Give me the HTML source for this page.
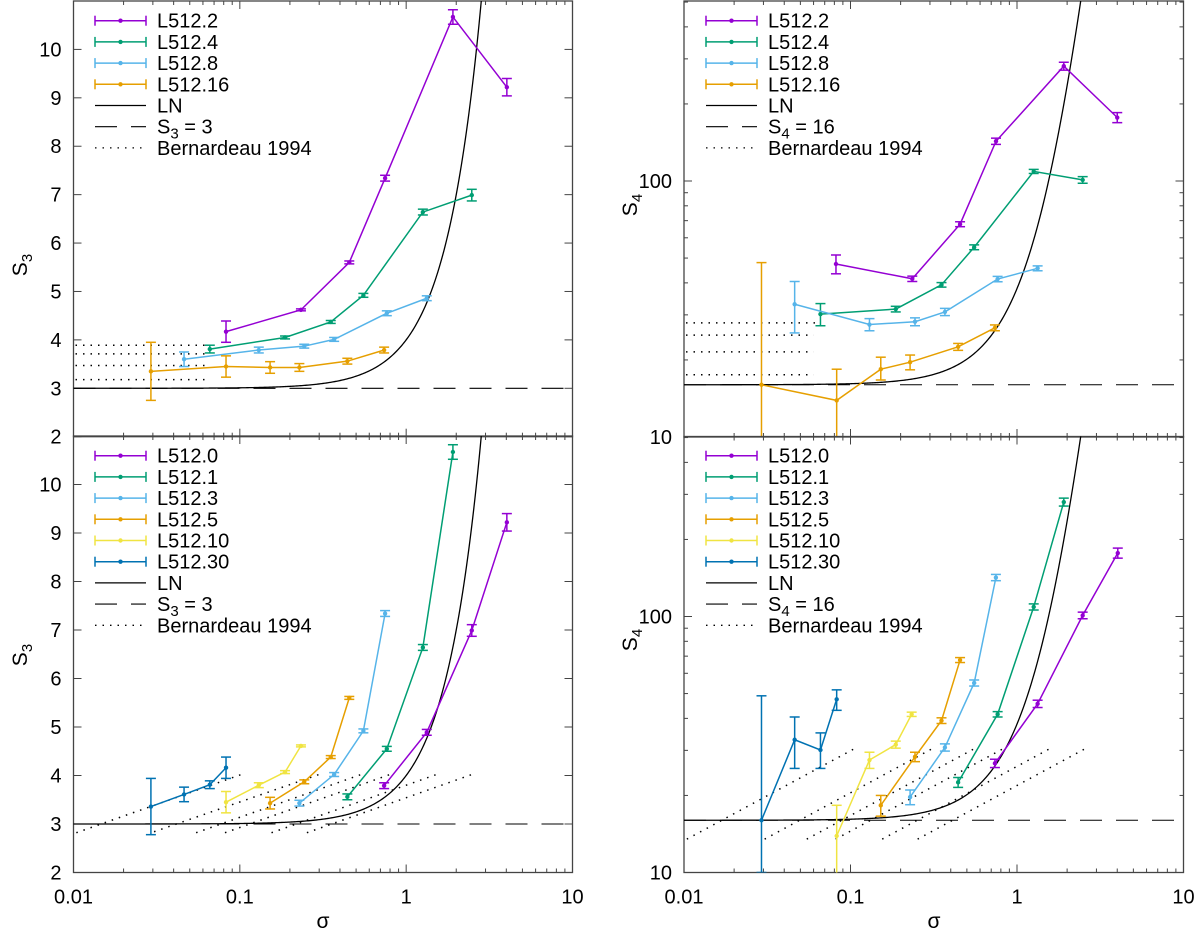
<!DOCTYPE html>
<html><head><meta charset="utf-8"><style>
body{margin:0;background:#fff}
svg{display:block;font-family:"Liberation Sans",sans-serif}
</style></head><body>
<svg id="c" width="1200" height="935" viewBox="0 0 1200 935" xmlns="http://www.w3.org/2000/svg"></svg>
<script>
// ---------- data ----------
const colPurple="#9400D3",colGreen="#009E73",colLblue="#56B4E9",colOrange="#E69F00",colYellow="#F0E442",colBlue="#0072B2";
// top-left S3
const tlNames=["L512.2","L512.4","L512.8","L512.16"];
const tlColors=[colPurple,colGreen,colLblue,colOrange];
const tlSigma=[[0.0826,0.233,0.455,0.747,1.91,4.03],[0.066,0.187,0.352,0.553,1.26,2.48],[0.0462,0.130,0.244,0.369,0.765,1.33],[0.0292,0.0826,0.152,0.228,0.443,0.737]];
const tlS3=[[4.17,4.62,5.60,7.34,10.67,9.22],[3.81,4.05,4.37,4.92,6.64,6.99],[3.60,3.79,3.87,4.01,4.55,4.86],[3.35,3.45,3.43,3.43,3.56,3.79]];
const tlErr=[[0.22,0.02,0.03,0.06,0.15,0.18],[0.08,0.03,0.03,0.04,0.06,0.12],[0.15,0.06,0.04,0.04,0.05,0.05],[0.6,0.22,0.12,0.08,0.06,0.06]];
const tlBernVal=[3.89,3.71,3.47,3.18];
const tlBernEnd=[0.066,0.066,0.062,0.062];
// bottom-left S3
const blNames=["L512.0","L512.1","L512.3","L512.5","L512.10","L512.30"];
const blColors=[colPurple,colGreen,colLblue,colOrange,colYellow,colBlue];
const blSigma=[[0.737,1.33,2.48,4.03],[0.443,0.765,1.26,1.91],[0.228,0.369,0.553,0.747],[0.152,0.244,0.352,0.455],[0.0826,0.130,0.187,0.233],[0.0292,0.0462,0.066,0.0826]];
const blS3=[[3.79,4.89,6.99,9.22],[3.56,4.55,6.64,10.67],[3.43,4.02,4.92,7.34],[3.43,3.87,4.38,5.60],[3.45,3.80,4.07,4.61],[3.36,3.61,3.81,4.16]];
const blErr=[[0.06,0.06,0.12,0.18],[0.06,0.05,0.06,0.15],[0.06,0.04,0.04,0.06],[0.12,0.04,0.03,0.03],[0.22,0.05,0.03,0.02],[0.58,0.15,0.08,0.22]];
const bernStart=[0.0104,0.0305,0.0546,0.0814,0.155,0.253];
const bernS3Start=[2.82,2.84,2.82,2.82,2.82,2.82];
const bernS3End=[4.03,4.03,4.03,4.03,4.03,4.03];
// top-right S4
const trSigma=[[0.0818,0.235,0.455,0.748,1.91,4.0],[0.066,0.187,0.352,0.553,1.26,2.48],[0.0462,0.130,0.244,0.369,0.765,1.33],[0.0292,0.0826,0.152,0.228,0.443,0.737]];
const trS4=[[47.4,41.5,67.8,143,281,177],[30.2,31.6,39.3,55.1,109,101],[33,27.5,28.2,30.8,41.4,45.6],[16,13.9,18.4,19.6,22.5,26.7]];
const trErrLo=[[4,1,1.5,4,10,8],[3,0.8,0.8,1.2,2,3],[7.5,1.5,1,1,1,1],[10,7,1.7,1.3,0.7,0.7]];
const trErrHi=[[4,1,1.5,4,10,8],[3,0.8,0.8,1.2,2,3],[7.5,1.5,1,1,1,1],[32,4.5,2.1,1.3,0.7,0.7]];
const trBernVal=[27.9,25.0,21.5,17.5];
const trBernEnd=[0.066,0.06,0.06,0.06];
// bottom-right S4
const brSigma=blSigma;
const brS4=[[26.7,45.6,101,177],[22.5,41.5,109,280],[19.7,30.8,55,142],[18.3,28.3,39.2,67.6],[13.9,27.5,31.6,41.5],[16,33,30.1,47.5]];
const brErrLo=[[1,1.5,3,8],[1,1,3,10],[1.3,1,1.5,4],[1.7,1.2,1,1.5],[4,2,1,0.8],[6,7.5,4.6,4.5]];
const brErrHi=[[1,1.5,3,8],[1,1,3,10],[1.3,1,1.5,4],[1.7,1.2,1,1.5],[4.4,2,1,0.8],[33,7.5,5,4.2]];
const bernS4Start=[13.5,13.5,13.5,13.5,13.5,13.5];
const bernS4End=[30.3,30.3,30.3,30.3,30.3,30.3];
const xTicks=[0.01,0.1,1,10];
const xTickLabels=["0.01","0.1","1","10"];
const s3Ticks=[2,3,4,5,6,7,8,9,10];
const s4Ticks=[10,100];

// ---------- drawing ----------
const NS="http://www.w3.org/2000/svg";
const svg=document.getElementById("c");
function mk(tag,attrs,parent){const e=document.createElementNS(NS,tag);for(const k in attrs)e.setAttribute(k,attrs[k]);(parent||svg).appendChild(e);return e;}

function makePanel(x0,x1,y0,y1,ymin,ymax,logy){
  const xs=s=>x0+(Math.log10(s)+2)/3*(x1-x0);
  const ys=logy?(v=>y1-(Math.log10(v)-Math.log10(ymin))/(Math.log10(ymax)-Math.log10(ymin))*(y1-y0)):(v=>y1-(v-ymin)/(ymax-ymin)*(y1-y0));
  return {x0,x1,y0,y1,xs,ys,logy,ymin,ymax};
}
const TL=makePanel(73.5,572.5,1,436.7,2,11,false);
const BL=makePanel(73.5,572.5,436,872.5,2,11,false);
const TR=makePanel(684,1183.5,1,437,10,Math.pow(10,1+436/256),true);
const BR=makePanel(684,1183.5,436.5,872.5,10,Math.pow(10,1+436/256),true);

function frame(P,name,yTicks,showX,ylab,ylabSub,ylx,yly){
  const g=mk("g",{});
  
  
  mk("rect",{x:P.x0,y:P.y0,width:P.x1-P.x0,height:P.y1-P.y0,fill:"none",stroke:"#444","stroke-width":1.3},g);
  for(let d=-2;d<1;d++){for(let m=1;m<10;m++){const s=m*Math.pow(10,d);const x=P.xs(s);const L=m===1?8:4;
    mk("line",{x1:x,x2:x,y1:P.y1,y2:P.y1-L,stroke:"#444"},g);mk("line",{x1:x,x2:x,y1:P.y0,y2:P.y0+L,stroke:"#444"},g);}}
  if(showX){xTicks.forEach((t,i)=>{const tx=mk("text",{x:P.xs(t),y:P.y1+31,"font-size":20,"text-anchor":"middle"},g);tx.textContent=xTickLabels[i];
    });}
  if(P.logy){
    for(let d=1;d<3;d++)for(let m=1;m<10;m++){const v=m*Math.pow(10,d);if(v>P.ymax)continue;const y=P.ys(v);const L=m===1?8:4;
      mk("line",{x1:P.x0,x2:P.x0+L,y1:y,y2:y,stroke:"#444"},g);mk("line",{x1:P.x1,x2:P.x1-L,y1:y,y2:y,stroke:"#444"},g);}
  }else{
    for(let v=2;v<=11;v++){const y=P.ys(v);mk("line",{x1:P.x0,x2:P.x0+8,y1:y,y2:y,stroke:"#444"},g);mk("line",{x1:P.x1,x2:P.x1-8,y1:y,y2:y,stroke:"#444"},g);}
  }
  yTicks.forEach(v=>{const tx=mk("text",{x:P.x0-12,y:P.ys(v)+7,"font-size":20,"text-anchor":"end"},g);tx.textContent=String(v);
    });
  const cy=yly;
  const yl=mk("text",{x:ylx,y:cy,"font-size":21,"text-anchor":"middle",transform:`rotate(-90 ${ylx} ${cy})`},g);
  
  yl.appendChild(document.createTextNode("S"));
  const sub=mk("tspan",{"font-size":15,dy:5},yl);sub.textContent=ylabSub;
}

function clipFor(P,id){const cp=mk("clipPath",{id});mk("rect",{x:P.x0,y:P.y0,width:P.x1-P.x0,height:P.y1-P.y0},cp);return `url(#${id})`;}

function lnCurve(P,fn,clip){let d="";for(let i=0;i<=400;i++){const l=-2+3*i/400;const s=Math.pow(10,l);let v=fn(s);if(v>P.ymax*1.5)v=P.ymax*1.5;d+=(i?"L":"M")+P.xs(s).toFixed(2)+","+P.ys(v).toFixed(2);}
  const p=mk("path",{d,fill:"none",stroke:"#000","stroke-width":1.3,"clip-path":clip});}
function hDashed(P,v){const y=P.ys(v);const l=mk("line",{x1:P.x0,x2:P.x1,y1:y,y2:y,stroke:"#000","stroke-width":1.1,"stroke-dasharray":"22,14"});}
function dotLine(xa,ya,xb,yb){const l=mk("line",{x1:xa,y1:ya,x2:xb,y2:yb,stroke:"#000","stroke-width":1.5,"stroke-dasharray":"1.5,6"});}

function series(P,sig,val,eLo,eHi,color,name,clip){
  const g=mk("g",{"clip-path":clip});
  
  let d="";sig.forEach((s,i)=>{d+=(i?"L":"M")+P.xs(s)+","+P.ys(val[i]);});
  mk("path",{d,fill:"none",stroke:color,"stroke-width":1.5},g);
  sig.forEach((s,i)=>{const x=P.xs(s);const yt=P.ys(val[i]+eHi[i]);const yb=P.ys(Math.max(val[i]-eLo[i],P.logy?0.1:-10));
    mk("line",{x1:x,x2:x,y1:yt,y2:yb,stroke:color,"stroke-width":1.5},g);
    mk("line",{x1:x-5,x2:x+5,y1:yt,y2:yt,stroke:color,"stroke-width":1.5},g);
    mk("line",{x1:x-5,x2:x+5,y1:yb,y2:yb,stroke:color,"stroke-width":1.5},g);
    const c=mk("circle",{cx:x,cy:P.ys(val[i]),r:2.2,fill:color},g);
    });
}

function legend(y0,names,colors,refLabelSub,refVal,xL){
  const g=mk("g",{});
  const step=21.2;let y=y0;
  names.forEach((n,i)=>{const e=mk("g",{},g);
    const c=colors[i];mk("line",{x1:xL,x2:xL+51,y1:y,y2:y,stroke:c,"stroke-width":1.5},e);
    mk("line",{x1:xL,x2:xL,y1:y-5,y2:y+5,stroke:c,"stroke-width":1.5},e);mk("line",{x1:xL+51,x2:xL+51,y1:y-5,y2:y+5,stroke:c,"stroke-width":1.5},e);
    mk("circle",{cx:xL+25.5,cy:y,r:2.2,fill:c},e);
    const t=mk("text",{x:xL+62,y:y+7,"font-size":20},e);t.textContent=n;y+=step;});
  let e=mk("g",{},g);
  mk("line",{x1:xL,x2:xL+51,y1:y,y2:y,stroke:"#000","stroke-width":1.3},e);let t=mk("text",{x:xL+62,y:y+7,"font-size":20},e);t.textContent="LN";y+=step;
  e=mk("g",{},g);
  mk("line",{x1:xL,x2:xL+51,y1:y,y2:y,stroke:"#000","stroke-width":1.1,"stroke-dasharray":"22,14"},e);
  t=mk("text",{x:xL+62,y:y+7,"font-size":20},e);t.appendChild(document.createTextNode("S"));const sb=mk("tspan",{"font-size":15,dy:5},t);sb.textContent=refLabelSub;
  const rest=mk("tspan",{dy:-5},t);rest.textContent=" = "+refVal;y+=step;
  e=mk("g",{},g);
  mk("line",{x1:xL,x2:xL+51,y1:y,y2:y,stroke:"#000","stroke-width":1.3,"stroke-dasharray":"1.5,6"},e);
  t=mk("text",{x:xL+62,y:y+7,"font-size":20},e);t.textContent="Bernardeau 1994";
}

const S3LN=s=>3+s*s;
const S4LN=s=>{const v=s*s;return 16+15*v+6*v*v+v*v*v;};

frame(TL,"top-left",s3Ticks,false,"S","3",27,265);
const cTL=clipFor(TL,"ctl");
hDashed(TL,3);
tlBernVal.forEach((v,i)=>dotLine(TL.x0+2,TL.ys(v),TL.xs(tlBernEnd[i]),TL.ys(v)));
lnCurve(TL,S3LN,cTL);
tlNames.forEach((n,i)=>series(TL,tlSigma[i],tlS3[i],tlErr[i],tlErr[i],tlColors[i],n,cTL));
legend(20.7,tlNames,tlColors,"3","3",95);

frame(BL,"bottom-left",s3Ticks,true,"S","3",27,655);
const cBL=clipFor(BL,"cbl");
hDashed(BL,3);
bernStart.forEach((s,i)=>dotLine(BL.xs(s),BL.ys(bernS3Start[i]),BL.xs(s*10),BL.ys(bernS3End[i])));
lnCurve(BL,S3LN,cBL);
blNames.forEach((n,i)=>series(BL,blSigma[i],blS3[i],blErr[i],blErr[i],blColors[i],n,cBL));
legend(455.7,blNames,blColors,"3","3",95);

frame(TR,"top-right",s4Ticks,false,"S","4",637,205);
const cTR=clipFor(TR,"ctr");
hDashed(TR,16);
trBernVal.forEach((v,i)=>dotLine(TR.x0+2,TR.ys(v),TR.xs(trBernEnd[i]),TR.ys(v)));
lnCurve(TR,S4LN,cTR);
tlNames.forEach((n,i)=>series(TR,trSigma[i],trS4[i],trErrLo[i],trErrHi[i],tlColors[i],n,cTR));
legend(20.7,tlNames,tlColors,"4","16",706);

frame(BR,"bottom-right",s4Ticks,true,"S","4",637,640);
const cBR=clipFor(BR,"cbr");
hDashed(BR,16);
bernStart.forEach((s,i)=>dotLine(BR.xs(s),BR.ys(bernS4Start[i]),BR.xs(s*10),BR.ys(bernS4End[i])));
lnCurve(BR,S4LN,cBR);
blNames.forEach((n,i)=>series(BR,brSigma[i],brS4[i],brErrLo[i],brErrHi[i],blColors[i],n,cBR));
legend(455.7,blNames,blColors,"4","16",706);

[[323,"x-axis-title-left"],[934,"x-axis-title-right"]].forEach(([x,n])=>{const t=mk("text",{x,y:928,"font-size":21,"text-anchor":"middle"});t.textContent="σ";
  });
</script>
</body></html>
